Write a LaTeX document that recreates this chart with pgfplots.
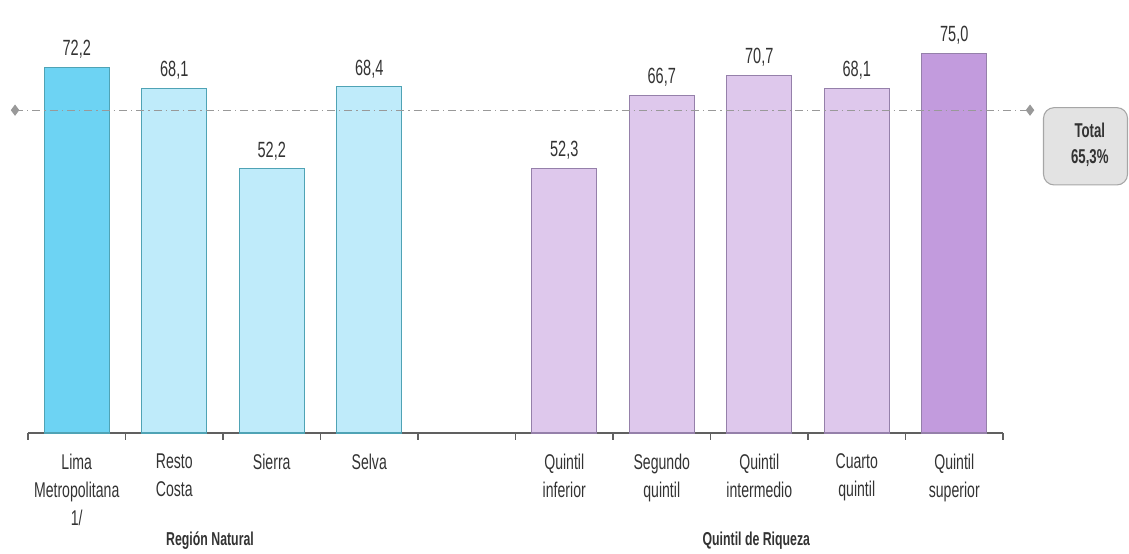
\documentclass[border=0pt]{standalone}
\usepackage{fontspec}
\setmainfont{Liberation Sans}[FakeStretch=0.66]
\usepackage{pgfplots}
\pgfplotsset{compat=1.18}
\definecolor{cyanD}{HTML}{6DD3F3}
\definecolor{cyanL}{HTML}{BFEBFA}
\definecolor{cyanE}{HTML}{4FA3B5}
\definecolor{lavL}{HTML}{DEC8EC}
\definecolor{lavD}{HTML}{C29BDD}
\definecolor{lavE}{HTML}{9580AA}
\definecolor{boxF}{HTML}{E3E3E3}
\begin{document}
\begin{tikzpicture}
\begin{axis}[
  x=73.125pt, y=3.795pt,
  xmin=-0.5, xmax=9.5, ymin=0, ymax=85.57,
  clip=false,
  axis x line=bottom, axis y line=none,
  axis line style={-, draw=gray!75!black, line width=0.8pt},
  ybar, bar width=48.75pt, bar shift=0pt,
  xtick={0,1,2,3,4,5,6,7,8,9},
  major tick length=0pt,
  minor xtick={-0.5,0.5,...,9.5},
  minor tick length=5pt,
  tick align=outside,
  tick style={draw=gray!75!black, line width=0.8pt},
  xticklabels={{Lima\\Metropolitana\\1/},{Resto\\Costa},Sierra,Selva,{},{Quintil\\inferior},{Segundo\\quintil},{Quintil\\intermedio},{Cuarto\\quintil},{Quintil\\superior}},
  xticklabel style={align=center, font=\fontsize{16}{21}\selectfont, text=black!80, yshift=-12pt},
  nodes near coords,
  nodes near coords style={font=\fontsize{16.5}{18}\selectfont, text=black!80, yshift=3pt},
  /pgf/number format/.cd, use comma, fixed, fixed zerofill, precision=1, assume math mode=true,
]
\addplot[fill=cyanD, draw=cyanE, line width=0.8pt] coordinates {(0,72.2)};
\addplot[fill=cyanL, draw=cyanE, line width=0.8pt] coordinates {(1,68.1) (2,52.2) (3,68.4)};
\addplot[fill=lavL, draw=lavE, line width=0.8pt] coordinates {(5,52.3) (6,66.7) (7,70.7) (8,68.1)};
\addplot[fill=lavD, draw=lavE, line width=0.8pt] coordinates {(9,75.0)};
\addplot[sharp plot, nodes near coords={}, draw=gray!80, line width=0.9pt, dash pattern=on 6pt off 3pt on 1pt off 3pt, mark=diamond*, mark size=3.5pt, mark options={solid, fill=gray!80, draw=gray!80}] coordinates {(-0.633,63.8) (9.777,63.8)};
\path (axis cs:-0.787,-22.92) rectangle (axis cs:10.792,85.57);
\node[draw=gray!70, fill=boxF, rounded corners=8pt, line width=0.8pt, minimum width=63pt, minimum height=58pt] at (axis cs:10.346,56.66) {};
\node[align=center, font=\bfseries\fontsize{15}{19.5}\selectfont, text=black!80] at (axis cs:10.39,56.9) {Total\\65,3\%};
\node[font=\bfseries\fontsize{14}{15}\selectfont, text=black!80] at (axis cs:1.367,-21.2) {Región Natural};
\node[font=\bfseries\fontsize{14}{15}\selectfont, text=black!80] at (axis cs:6.97,-21.2) {Quintil de Riqueza};
\end{axis}
\end{tikzpicture}
\end{document}
